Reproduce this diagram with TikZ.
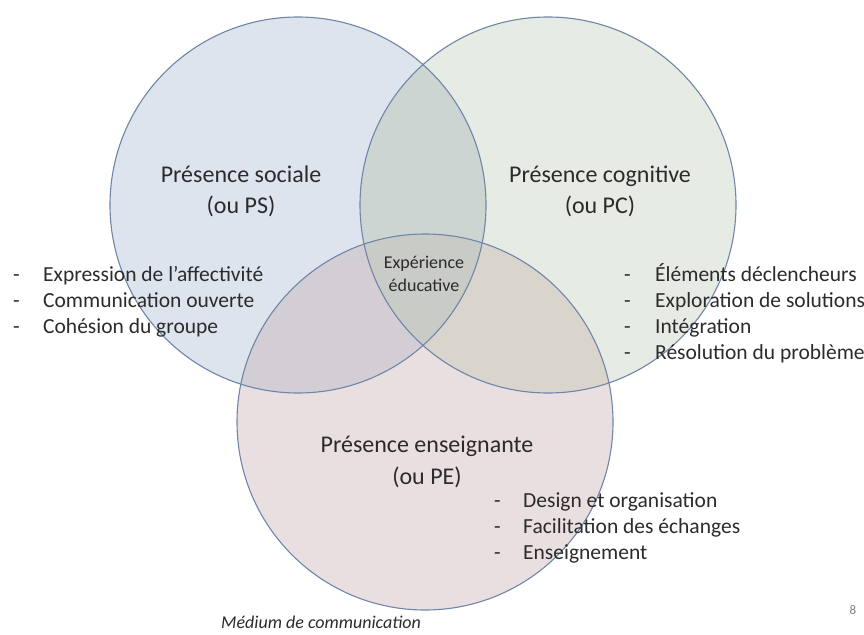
\documentclass[tikz,border=0pt]{standalone}
\usepackage{fontspec}
\setmainfont{Carlito}
\definecolor{cblue}{HTML}{DDE4ED}
\definecolor{cgreen}{HTML}{E6EBE4}
\definecolor{cpink}{HTML}{EADFE0}
\definecolor{cbg}{HTML}{CDD5D3}
\definecolor{cbp}{HTML}{D3CDD4}
\definecolor{cgp}{HTML}{D9D4CC}
\definecolor{call}{HTML}{C9CBC6}
\definecolor{circline}{HTML}{6F86A8}
\definecolor{txt}{HTML}{2B2B2B}
\begin{document}
\begin{tikzpicture}[x=1pt,y=-1pt,
  circ/.style={draw=circline, line width=1.1pt},
  title/.style={font=\fontsize{24}{29}\selectfont, text=txt, anchor=base, inner sep=0pt},
  item/.style={font=\fontsize{21.5}{25}\selectfont, text=txt, anchor=base west, inner sep=0pt},
  center/.style={font=\fontsize{18}{22}\selectfont, text=txt, anchor=base, inner sep=0pt},
]
\useasboundingbox (0,0) rectangle (864,634);
\coordinate (cs) at (298,205);
\coordinate (cc) at (548,205);
\coordinate (ce) at (425,422);
\def\R{188pt}
\fill[cblue] (cs) circle (\R);
\fill[cgreen] (cc) circle (\R);
\fill[cpink] (ce) circle (\R);
\begin{scope}\clip (cs) circle (\R); \fill[cbg] (cc) circle (\R);\end{scope}
\begin{scope}\clip (cs) circle (\R); \fill[cbp] (ce) circle (\R);\end{scope}
\begin{scope}\clip (cc) circle (\R); \fill[cgp] (ce) circle (\R);\end{scope}
\begin{scope}\clip (cs) circle (\R); \clip (cc) circle (\R); \fill[call] (ce) circle (\R);\end{scope}
\draw[circ] (cs) circle (\R);
\draw[circ] (cc) circle (\R);
\draw[circ] (ce) circle (\R);

% titles
\node[title] (ps1) at (241,182) {Présence sociale};
\node[title] (ps2) at (241,213) {(ou PS)};
\node[title] (pc1) at (600,182) {Présence cognitive};
\node[title] (pc2) at (600,213) {(ou PC)};
\node[title] (pe1) at (427,452) {Présence enseignante};
\node[title] (pe2) at (427,484) {(ou PE)};
\node[center] (ex1) at (424,268) {Expérience};
\node[center] (ex2) at (424,291) {éducative};

% social list
\node[item] (sd1) at (13,281) {-};
\node[item] (st1) at (43,281) {Expression de l’affectivité};
\node[item] (sd2) at (13,307) {-};
\node[item] (st2) at (43,307) {Communication ouverte};
\node[item] (sd3) at (13,333) {-};
\node[item] (st3) at (43,333) {Cohésion du groupe};

% cognitive list
\node[item] (cd1) at (624,281) {-};
\node[item] (ct1) at (655,281) {Éléments déclencheurs};
\node[item] (cd2) at (624,307) {-};
\node[item] (ct2) at (655,307) {Exploration de solutions};
\node[item] (cd3) at (624,333) {-};
\node[item] (ct3) at (655,333) {Intégration};
\node[item] (cd4) at (624,359) {-};
\node[item] (ct4) at (655,359) {Résolution du problème};

% teaching list
\node[item] (ed1) at (494,507) {-};
\node[item] (et1) at (523,507) {Design et organisation};
\node[item] (ed2) at (494,533) {-};
\node[item] (et2) at (523,533) {Facilitation des échanges};
\node[item] (ed3) at (494,559) {-};
\node[item] (et3) at (523,559) {Enseignement};

\node[font=\fontsize{18}{22}\selectfont\itshape, text=txt, anchor=base, inner sep=0pt] (med) at (321,628) {Médium de communication};
\node[font=\fontsize{13}{16}\selectfont, text=gray, anchor=base, inner sep=0pt] (num) at (853,614) {8};
\end{tikzpicture}
\end{document}
